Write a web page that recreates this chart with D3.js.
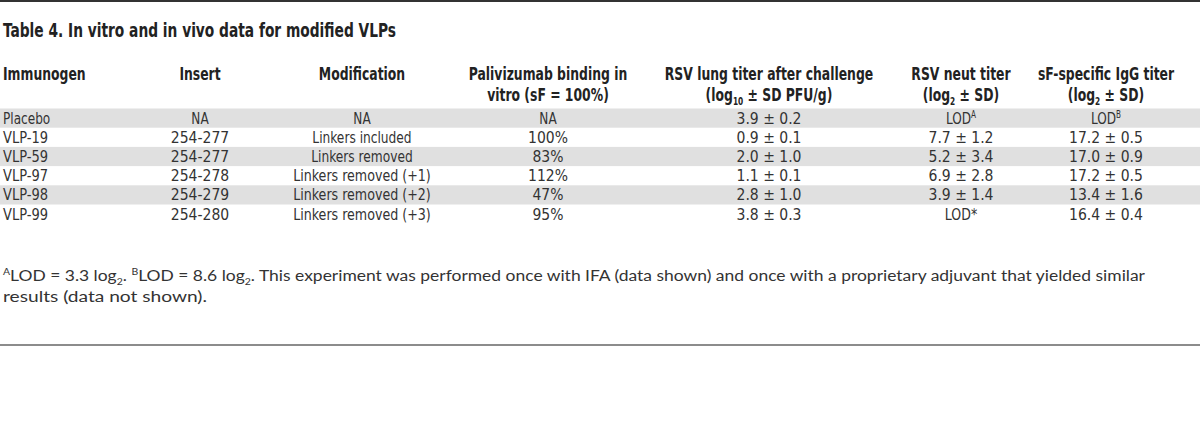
<!DOCTYPE html>
<html><head><meta charset="utf-8">
<script src="https://cdn.jsdelivr.net/npm/d3@7"></script>
<style>
body{margin:0;background:#fff}
svg{display:block}
.cond{font-family:"Liberation Sans Narrow","DejaVu Sans Condensed","Roboto Condensed","Liberation Sans",sans-serif;font-stretch:condensed}
</style>
</head><body>
<svg id="c" width="1200" height="427"></svg>
<script>
const title = "Table 4. In vitro and in vivo data for modified VLPs";
const headerLine1 = ["Immunogen","Insert","Modification","Palivizumab binding in","RSV lung titer after challenge","RSV neut titer","sF-specific IgG titer"];
const headerLine2 = ["","","","vitro (sF = 100%)","(log_{10} ± SD PFU/g)","(log_{2} ± SD)","(log_{2} ± SD)"];
const immunogen = ["Placebo","VLP-19","VLP-59","VLP-97","VLP-98","VLP-99"];
const insert = ["NA","254-277","254-277","254-278","254-279","254-280"];
const modification = ["NA","Linkers included","Linkers removed","Linkers removed (+1)","Linkers removed (+2)","Linkers removed (+3)"];
const palivizumab = ["NA","100%","83%","112%","47%","95%"];
const lungTiter = ["3.9 ± 0.2","0.9 ± 0.1","2.0 ± 1.0","1.1 ± 0.1","2.8 ± 1.0","3.8 ± 0.3"];
const neutTiter = ["LOD^{A}","7.7 ± 1.2","5.2 ± 3.4","6.9 ± 2.8","3.9 ± 1.4","LOD*"];
const iggTiter = ["LOD^{B}","17.2 ± 0.5","17.0 ± 0.9","17.2 ± 0.5","13.4 ± 1.6","16.4 ± 0.4"];
const footnotes = [
  "^{A}LOD = 3.3 log_{2}. ^{B}LOD = 8.6 log_{2}. This experiment was performed once with IFA (data shown) and once with a proprietary adjuvant that yielded similar",
  "results (data not shown)."
];

const colData = [immunogen, insert, modification, palivizumab, lungTiter, neutTiter, iggTiter];
const colIdx = d3.range(colData.length);

const svg = d3.select("#c");
const W = 1200;

const xCol = d3.scaleOrdinal().domain(colIdx).range([3, 200, 362, 548, 769, 961, 1106]);
const anchor = i => i === 0 ? "start" : "middle";
const yRow = d3.scaleBand().domain(d3.range(immunogen.length)).range([108.5, 108.5 + 19.2 * immunogen.length]).paddingInner(0);

// rich-text helper: ^{X} superscript, _{X} subscript
function rich(sel, str, size) {
  const parts = str.split(/([\^_]\{[^}]*\})/).filter(s => s.length);
  let pending = 0;
  parts.forEach(p => {
    if (p[0] === "^" || p[0] === "_") {
      const sh = p[0] === "^" ? -size*0.38 : size*0.28;
      sel.append("tspan").attr("dy", pending + sh).attr("font-size", size*0.6).text(p.slice(2,-1));
      pending = -sh;
    } else {
      const t = sel.append("tspan").text(p);
      if (pending) t.attr("dy", pending);
      pending = 0;
    }
  });
}
function squeeze(sel, k) {
  sel.each(function(){
    const n = this.getComputedTextLength();
    d3.select(this).attr("textLength", n * k).attr("lengthAdjust", "spacingAndGlyphs");
  });
}
// body font: letters narrower than digits in the original face
function bodyK(str) {
  const letters = (str.match(/[A-Za-z]/g) || []).length;
  const total = str.replace(/[\^_{}]/g, "").length || 1;
  return (0.84 * letters + 0.97 * (total - letters)) / total;
}

// rules
svg.append("line").attr("x1",0).attr("x2",W).attr("y1",1).attr("y2",1).attr("stroke","#333").attr("stroke-width",2);
svg.append("line").attr("x1",0).attr("x2",W).attr("y1",345).attr("y2",345).attr("stroke","#666").attr("stroke-width",1.5);

// title
svg.append("text").attr("x",3).attr("y",37)
  .attr("class","cond")
  .attr("font-weight","bold").attr("font-size",19.5).attr("fill","#222")
  .attr("textLength",393).attr("lengthAdjust","spacingAndGlyphs")
  .text(title);

// bands
svg.append("g").selectAll("rect").data(d3.range(immunogen.length).filter(i => i % 2 === 0)).join("rect")
  .attr("x",0).attr("width",W).attr("y",i => yRow(i)).attr("height",yRow.bandwidth()).attr("fill","#e0e0e0");

// header
const hg = svg.append("g").attr("class","cond").attr("font-weight","bold").attr("font-size",17).attr("fill","#222");
colIdx.forEach(i => {
  const t1 = hg.append("text").attr("x",xCol(i)).attr("y",80).attr("text-anchor",anchor(i)).text(headerLine1[i]);
  squeeze(t1, 0.81);
  if (headerLine2[i]) {
    const t = hg.append("text").attr("x",xCol(i)).attr("y",100.5).attr("text-anchor",anchor(i));
    rich(t, headerLine2[i], 17);
    squeeze(t, 0.81);
  }
});

// body
const bg = svg.append("g").attr("class","cond").attr("font-size",16).attr("fill","#333");
colIdx.forEach(c => {
  bg.append("g").selectAll("text").data(colData[c]).join("text")
    .attr("x", xCol(c)).attr("y",(d,r) => yRow(r) + yRow.bandwidth()/2 + 5.5)
    .attr("text-anchor", anchor(c))
    .each(function(d){ const s = d3.select(this); rich(s, d, 16); squeeze(s, bodyK(d)); });
});

// footnotes
const fg = svg.append("g").attr("font-family","Lato, 'Open Sans', sans-serif").attr("font-size",15.5).attr("fill","#333");
const fnLen = [1142, 204];
footnotes.forEach((f,i) => {
  const t = fg.append("text").attr("x",3).attr("y",281 + i*21)
    .attr("textLength",fnLen[i]).attr("lengthAdjust","spacingAndGlyphs");
  rich(t, f, 15.5);
});
</script>
</body></html>
